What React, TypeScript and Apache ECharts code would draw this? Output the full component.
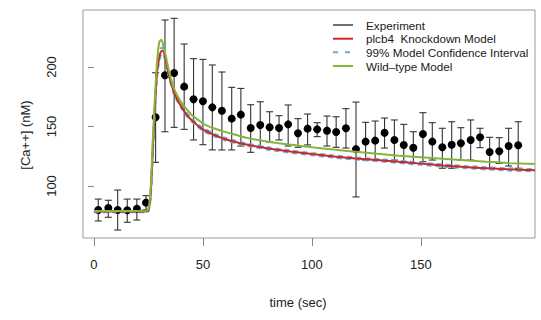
import React, { useEffect, useRef } from "react";
import * as echarts from "echarts";

const times = [2.0, 6.6, 10.9, 15.3, 19.7, 23.9, 28.3, 32.6, 36.8, 41.4, 45.7, 50.0, 54.3, 58.7, 63.2, 67.4, 71.9, 76.3, 80.6, 84.9, 89.1, 93.6, 98.0, 102.4, 106.9, 111.1, 115.6, 120.2, 124.6, 129.0, 133.3, 137.8, 142.1, 146.5, 150.9, 155.2, 159.8, 164.1, 168.3, 172.8, 177.1, 181.5, 185.9, 190.2, 194.6];
const expMean = [79.8, 81.5, 79.8, 79.6, 80.9, 86.0, 157.7, 193.0, 195.0, 183.5, 172.9, 171.2, 166.1, 163.3, 156.6, 160.0, 148.7, 151.3, 149.3, 148.7, 151.8, 144.3, 148.2, 147.6, 146.5, 145.4, 148.5, 131.0, 137.3, 138.1, 144.8, 138.7, 134.5, 132.2, 143.7, 137.3, 132.5, 134.7, 135.9, 138.7, 140.9, 128.6, 129.2, 133.6, 134.2];
const expHigh = [89, 88, 96.6, 89, 89, 91.9, 195.2, 239.5, 240.9, 219.3, 207, 206.4, 201.7, 195.8, 182.9, 182, 168.3, 170.8, 162.4, 159.1, 168.1, 156.6, 160.5, 153.2, 158.8, 158.2, 165, 170.5, 153.5, 154.6, 157.1, 155.5, 151.8, 145.6, 161.6, 153.2, 148.5, 154, 149, 155.5, 148.5, 140.9, 140.6, 148.5, 154];
const expLow = [70.6, 73.7, 63, 69.5, 71.4, 80, 119.9, 145.6, 149.3, 147.6, 138.7, 134.7, 130.3, 130.3, 130.3, 133.6, 128.3, 133, 137, 138.7, 133.6, 132.5, 134.5, 141.5, 133.6, 132.5, 131.9, 90.8, 121.8, 121.8, 131.9, 121.8, 120.4, 119, 120.4, 121.8, 114.9, 114.9, 121.8, 121.8, 132.2, 114.9, 119, 116.8, 114.9];

const modelTimes = [0, 5, 10, 15, 20, 24, 25, 26, 27, 28, 29, 30, 31, 32, 33, 34, 35, 36.5, 38, 40, 42.5, 45, 47.5, 50, 55, 60, 65, 70, 80, 90, 100, 110, 120, 130, 140, 150, 160, 170, 180, 190, 202.3];
const knockdown = [78.5, 78.5, 78.5, 78.5, 78.5, 78.6, 79.5, 92, 130, 167, 196, 208, 213.5, 213, 205, 196, 189, 180, 173.5, 167, 160, 155, 151, 147.5, 143, 139.5, 137, 134.8, 131.5, 129, 126.8, 124.8, 123.2, 121.8, 120.3, 118.8, 117.3, 116, 114.9, 114, 113.3];
const ciUpper = [79, 79, 79, 79, 79, 79.1, 80.3, 94, 133, 170, 199, 211, 216, 215.5, 207, 198, 190.5, 181.5, 175, 168.5, 161.5, 156.3, 152.3, 148.7, 144.1, 140.5, 138, 135.7, 132.4, 129.9, 127.6, 125.6, 124, 122.6, 121.1, 119.6, 118.1, 116.8, 115.7, 114.8, 114.1];
const ciLower = [78, 78, 78, 78, 78, 78.1, 78.8, 90, 127, 164, 193, 205.5, 211, 210.5, 203, 194.5, 187.5, 178.5, 172.2, 165.7, 158.9, 154, 150, 146.5, 142, 138.5, 136, 133.8, 130.6, 128.1, 125.9, 123.9, 122.3, 120.9, 119.4, 117.9, 116.4, 115.1, 114, 113.1, 112.4];
const wildType = [79, 79, 79, 79, 79, 79.1, 80.5, 96, 138, 175, 205, 221, 223, 216.5, 209, 200, 192.5, 183, 177, 170.5, 164.5, 159.5, 156, 152.5, 148.5, 145.5, 143, 140.5, 137.2, 134.8, 132.6, 130.6, 128.8, 127.1, 125.5, 124.1, 122.8, 121.6, 120.4, 119.4, 118.5];

const xTicks = [0, 50, 100, 150];
const yTicks = [100, 150, 200];
const legendLabels = ["Experiment", "plcb4  Knockdown Model", "99% Model Confidence Interval", "Wild\u2013type Model"];

const RED = "#c62a22";
const BLUE = "#6fa8d8";
const GREEN = "#86b43c";
const FONT = "Liberation Sans, Arial, Helvetica, sans-serif";

export default function App() {
  const ref = useRef<HTMLDivElement>(null);
  useEffect(() => {
    if (!ref.current) return;
    const chart = echarts.init(ref.current, null, { renderer: "svg" });
    const pair = (arr: number[]) => modelTimes.map((t, i) => [t, arr[i]]);
    const lineSeries = (name: string, arr: number[], color: string, dashed = false, width = 2) => ({
      name,
      type: "line",
      data: pair(arr),
      showSymbol: false,
      symbol: "none",
      smooth: 0.25,
      lineStyle: { color, width, type: dashed ? [5, 4] : "solid", opacity: 1 },
      silent: true,
    });
    const legendRowsY = [25, 38.7, 52.3, 66];
    const legendColors = ["#111", RED, BLUE, GREEN];
    const graphics: any[] = [];
    legendLabels.forEach((lab, i) => {
      graphics.push({
        type: "line",
        shape: { x1: 333, y1: legendRowsY[i], x2: 353, y2: legendRowsY[i] },
        style: { stroke: legendColors[i], lineWidth: i === 0 ? 1.2 : 2, lineDash: i === 2 ? [5, 7] : null },
      });
      graphics.push({
        type: "text",
        x: 366,
        y: legendRowsY[i],
        style: { text: lab, font: `11.7px ${FONT}`, fill: "#1a1a1a", textAlign: "left", textVerticalAlign: "middle" },
      });
    });
    graphics.push({
      type: "text",
      x: 298,
      y: 302,
      style: { text: "time (sec)", font: `13px ${FONT}`, fill: "#222", textAlign: "center", textVerticalAlign: "middle" },
    });
    graphics.push({
      type: "text",
      x: 25,
      y: 135,
      rotation: Math.PI / 2,
      style: { text: "[Ca++] (nM)", font: `13px ${FONT}`, fill: "#222", textAlign: "center", textVerticalAlign: "middle" },
    });

    chart.setOption({
      animation: false,
      backgroundColor: "#ffffff",
      grid: {
        left: 83, right: 6, top: 10, bottom: 82,
        show: true, borderColor: "#9a9a9a", borderWidth: 1, backgroundColor: "transparent",
        containLabel: false, outerBoundsMode: "none",
      },
      xAxis: {
        type: "value", min: -5.0, max: 202.3,
        splitLine: { show: false },
        axisLine: { show: false },
        axisTick: { show: true, customValues: xTicks, length: 8, inside: false, lineStyle: { color: "#888" } },
        axisLabel: { customValues: xTicks, margin: 20, color: "#222", fontSize: 13, fontFamily: FONT },
      },
      yAxis: {
        type: "value", min: 56.3, max: 247.9,
        splitLine: { show: false },
        axisLine: { show: false },
        axisTick: { show: true, customValues: yTicks, length: 6, inside: false, lineStyle: { color: "#888" } },
        axisLabel: { customValues: yTicks, rotate: 90, margin: 25, color: "#222", fontSize: 13, fontFamily: FONT },
      },
      graphic: graphics,
      series: [
        lineSeries("ciUpper", ciUpper, BLUE, true, 2.2),
        lineSeries("ciLower", ciLower, BLUE, true, 2.2),
        lineSeries("knockdown", knockdown, RED, false, 2),
        lineSeries("wildType", wildType, GREEN, false, 2),
        {
          name: "errbars",
          type: "custom",
          silent: true,
          data: times.map((t, i) => [t, expLow[i], expHigh[i]]),
          encode: { x: 0, y: [1, 2] },
          renderItem: (params: any, api: any) => {
            const lo = api.coord([api.value(0), api.value(1)]);
            const hi = api.coord([api.value(0), api.value(2)]);
            const cap = 3.5;
            const st = { stroke: "#333", lineWidth: 1.1 };
            return {
              type: "group",
              children: [
                { type: "line", shape: { x1: lo[0], y1: lo[1], x2: hi[0], y2: hi[1] }, style: st },
                { type: "line", shape: { x1: lo[0] - cap, y1: lo[1], x2: lo[0] + cap, y2: lo[1] }, style: st },
                { type: "line", shape: { x1: hi[0] - cap, y1: hi[1], x2: hi[0] + cap, y2: hi[1] }, style: st },
              ],
            };
          },
        },
        {
          name: "Experiment",
          type: "scatter",
          silent: true,
          symbol: "circle",
          symbolSize: 8,
          itemStyle: { color: "#000", opacity: 1 },
          data: times.map((t, i) => [t, expMean[i]]),
        },
      ],
    });
    return () => chart.dispose();
  }, []);
  return <div ref={ref} style={{ position: "fixed", left: 0, top: 0, width: 541, height: 320 }} />;
}
